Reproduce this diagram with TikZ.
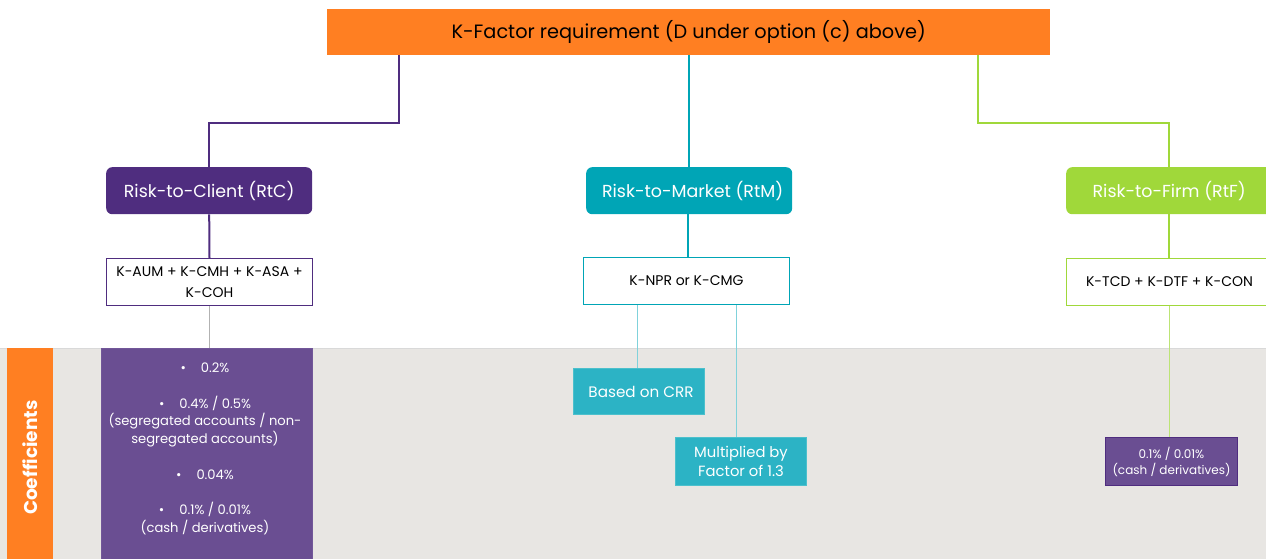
\documentclass[tikz,border=0pt]{standalone}
\usepackage{fontspec}
\setmainfont{Poppins}
\usetikzlibrary{positioning}
\definecolor{kOrange}{HTML}{FF7F22}
\definecolor{kPurple}{HTML}{4F2D7F}
\definecolor{kTeal}{HTML}{00A5B6}
\definecolor{kGreen}{HTML}{A0D83A}
\definecolor{kPurpleLt}{HTML}{6A4E92}
\definecolor{kTealLt}{HTML}{2CB3C5}
\definecolor{kBand}{HTML}{E8E6E3}
\tikzset{
  x=1pt, y=1pt,
  riskbox/.style={rounded corners=6pt, text=white, font=\fontsize{17.4}{20}\selectfont, inner sep=0pt},
  factorbox/.style={draw, fill=white, line width=1pt, font=\fontsize{14}{20.5}\selectfont, align=center, inner sep=0pt},
  coefbox/.style={draw, line width=1pt, text=white, align=center, inner sep=0pt},
  link/.style={line width=2pt},
  thinlink/.style={line width=1pt},
  coeftext/.style={text=white, font=\fontsize{13.1}{17.5}\selectfont, inner sep=0pt},
}
\newcommand{\bul}{\textbullet\hspace{15pt}}
\begin{document}
\begin{tikzpicture}
\useasboundingbox (0,0) rectangle (1266,-559);
% grey coefficient band
\fill[kBand] (0,-348) rectangle (1266,-559);
\draw[black!15, line width=1pt] (0,-348) -- (1266,-348);
% orange side label
\node[fill=kOrange, minimum width=46pt, minimum height=211pt, inner sep=0pt, anchor=north west] (coefstrip) at (7,-348) {};
\node[rotate=90, text=white, font=\fontsize{18.5}{20}\selectfont\bfseries] (coeflabel) at ([yshift=-4pt]coefstrip.center) {Coefficients};

% top node
\node[fill=kOrange, minimum width=723pt, minimum height=46pt, inner sep=0pt, anchor=north west,
      font=\fontsize{19.3}{22}\selectfont] (top) at (327,-9) {K-Factor requirement (D under option (c) above)};

% risk categories
\node[riskbox, fill=kPurple, minimum width=206pt, minimum height=47pt, anchor=north west] (rtc) at (106,-167) {Risk-to-Client (RtC)};
\node[riskbox, fill=kTeal, minimum width=206pt, minimum height=47pt, anchor=north west] (rtm) at (586,-167) {\hspace*{7pt}Risk-to-Market (RtM)};
\node[riskbox, fill=kGreen, minimum width=206pt, minimum height=47pt, anchor=north west] (rtf) at (1066,-167) {Risk-to-Firm (RtF)};

% K-factor boxes
\node[factorbox, draw=kPurple, minimum width=206pt, minimum height=47pt, anchor=north west] (kc) at (106,-258) {K-AUM + K-CMH + K-ASA +\\K-COH};
\node[factorbox, draw=kTeal, minimum width=206pt, minimum height=47pt, anchor=north west] (km) at (583,-257) {K-NPR or K-CMG};
\node[factorbox, draw=kGreen, minimum width=206pt, minimum height=47pt, anchor=north west] (kf) at (1066,-258) {K-TCD + K-DTF + K-CON};

% coefficient boxes
\node[coefbox, fill=kPurpleLt, draw=kPurple!80, minimum width=211pt, minimum height=212pt, anchor=north west] (cc) at (101,-348) {};
\node[coeftext, anchor=center] (c1) at (205,-368) {\bul 0.2\%};
\node[coeftext, anchor=center, align=center] (c2) at (205,-421.5) {\bul 0.4\% / 0.5\%\\(segregated accounts / non-\\segregated accounts)};
\node[coeftext, anchor=center] (c3) at (205,-475) {\bul 0.04\%};
\node[coeftext, anchor=center, align=center] (c4) at (205,-518.5) {\bul 0.1\% / 0.01\%\\(cash / derivatives)};

\node[coefbox, fill=kTealLt, draw=kTeal!70, minimum width=131pt, minimum height=46pt, anchor=north west,
      font=\fontsize{15.2}{18}\selectfont] (crr) at (573,-368) {\hspace*{4pt}Based on CRR};
\node[coefbox, fill=kTealLt, draw=kTeal!70, minimum width=131pt, minimum height=48pt, anchor=north west,
      font=\fontsize{14.8}{19.5}\selectfont] (mult) at (675,-437) {Multiplied by\\Factor of 1.3};
\node[coefbox, fill=kPurpleLt, draw=kPurple, minimum width=132pt, minimum height=48pt, anchor=north west,
      font=\fontsize{12}{16}\selectfont] (cf) at (1105,-437) {0.1\% / 0.01\%\\(cash / derivatives)};

% bend points of the top connectors
\coordinate (pa) at (399,-123);
\coordinate (pb) at (978,-123);

% connectors from the requirement to the risk categories
\draw[link, kPurple] (top.south -| pa) -- (pa) -| (rtc.north);
\draw[link, kTeal] (top.south -| rtm.north) -- (rtm.north);
\draw[link, kGreen] (top.south -| pb) -- (pb) -| (rtf.north -| 1169,0);

% risk categories to K-factors
\draw[link, kPurple] (rtc.south) -- (kc.north);
\draw[link, kTeal] (rtm.south -| 688,0) -- (km.north -| 688,0);
\draw[link, kGreen] (rtf.south -| 1169,0) -- (kf.north -| 1169,0);

% K-factors to coefficients
\draw[thinlink, black!30] (kc.south) -- (cc.north -| kc.south);
\draw[thinlink, kTeal!50] (km.south -| 637,0) -- (crr.north -| 637,0);
\draw[thinlink, kTeal!50] (km.south -| 736,0) -- (mult.north -| 736,0);
\draw[thinlink, kGreen!70] (kf.south -| 1169,0) -- (cf.north -| 1169,0);
\end{tikzpicture}
\end{document}
